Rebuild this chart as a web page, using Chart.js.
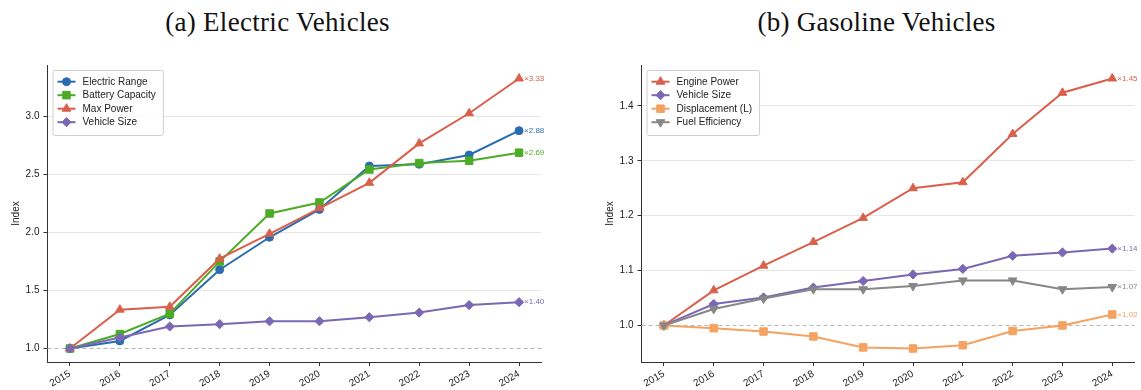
<!DOCTYPE html>
<html>
<head>
<meta charset="utf-8">
<script src="https://cdn.jsdelivr.net/npm/chart.js@4.4.1/dist/chart.umd.min.js"></script>
<style>
  html, body { margin: 0; padding: 0; background: #fff; width: 1141px; height: 390px; overflow: hidden; }
  .title { position: absolute; top: 9px; font-family: "Liberation Serif", "Times New Roman", serif; font-size: 27px; letter-spacing: 0.3px; line-height: 1; color: #111; white-space: nowrap; transform: translateX(-50%); }
  canvas { position: absolute; top: 0; }
</style>
</head>
<body>
<div class="title" style="left:277.5px">(a) Electric Vehicles</div>
<div class="title" style="left:876.5px">(b) Gasoline Vehicles</div>
<canvas id="ev" width="570" height="390" style="left:0"></canvas>
<canvas id="gas" width="547" height="390" style="left:594px"></canvas>
<script>
// Model years on the x axis
const years = [2015, 2016, 2017, 2018, 2019, 2020, 2021, 2022, 2023, 2024];

// Electric vehicles, indexed to 2015 = 1.0
const evElectricRange    = [1.00, 1.065, 1.29, 1.68, 1.96, 2.20, 2.575, 2.59, 2.67, 2.88];
const evBatteryCapacity  = [1.00, 1.125, 1.30, 1.75, 2.165, 2.26, 2.545, 2.60, 2.62, 2.69];
const evMaxPower         = [1.00, 1.335, 1.36, 1.775, 1.99, 2.21, 2.43, 2.77, 3.03, 3.33];
const evVehicleSize      = [1.00, 1.095, 1.19, 1.21, 1.235, 1.235, 1.27, 1.31, 1.375, 1.40];

// Gasoline vehicles, indexed to 2015 = 1.0
const gasEnginePower     = [1.00, 1.064, 1.109, 1.152, 1.196, 1.250, 1.261, 1.349, 1.424, 1.45];
const gasVehicleSize     = [1.00, 1.039, 1.051, 1.069, 1.081, 1.093, 1.103, 1.127, 1.133, 1.14];
const gasDisplacement    = [1.00, 0.995, 0.989, 0.980, 0.960, 0.958, 0.964, 0.990, 1.000, 1.02];
const gasFuelEfficiency  = [1.00, 1.030, 1.049, 1.066, 1.066, 1.072, 1.082, 1.082, 1.066, 1.07];

// Y tick values
const evTicks  = [1.0, 1.5, 2.0, 2.5, 3.0];
const gasTicks = [1.0, 1.1, 1.2, 1.3, 1.4];

const SANS = '"Liberation Sans", Arial, Helvetica, sans-serif';

const evSeries = [
  { label: 'Electric Range',   data: evElectricRange,   color: '#2b6cb0', style: 'circle',   radius: 4 },
  { label: 'Battery Capacity', data: evBatteryCapacity, color: '#4dac26', style: 'rect',     radius: 5.3 },
  { label: 'Max Power',        data: evMaxPower,        color: '#d9604c', style: 'triangle', radius: 5 },
  { label: 'Vehicle Size',     data: evVehicleSize,     color: '#7b68b5', style: 'rectRot',  radius: 4.6 }
];
const gasSeries = [
  { label: 'Engine Power',     data: gasEnginePower,    color: '#d9604c', style: 'triangle', radius: 5 },
  { label: 'Vehicle Size',     data: gasVehicleSize,    color: '#7b68b5', style: 'rectRot',  radius: 4.6 },
  { label: 'Displacement (L)', data: gasDisplacement,   color: '#f4a261', style: 'rect',     radius: 5.3 },
  { label: 'Fuel Efficiency',  data: gasFuelEfficiency, color: '#878787', style: 'triangle', radius: 5, rotation: 180 }
];

// Dashed baseline at index 1.0
const baseline = {
  id: 'baseline',
  beforeDatasetsDraw(chart) {
    const { ctx, chartArea, scales } = chart;
    const y = scales.y.getPixelForValue(1);
    ctx.save();
    ctx.strokeStyle = '#b5b5b5';
    ctx.lineWidth = 1;
    ctx.setLineDash([4, 3]);
    ctx.beginPath();
    ctx.moveTo(chartArea.left, y);
    ctx.lineTo(chartArea.right, y);
    ctx.stroke();
    ctx.restore();
  }
};

// "×value" annotation after the last point of each series
const endLabels = {
  id: 'endLabels',
  afterDatasetsDraw(chart) {
    const { ctx } = chart;
    ctx.save();
    ctx.font = '8px ' + SANS;
    ctx.textAlign = 'left';
    ctx.textBaseline = 'middle';
    chart.data.datasets.forEach((ds, i) => {
      const pts = chart.getDatasetMeta(i).data;
      const last = pts[pts.length - 1];
      const v = ds.data[ds.data.length - 1].y;
      ctx.fillStyle = ds.borderColor;
      ctx.fillText('\u00d7' + v.toFixed(2), last.x + 5, last.y);
    });
    ctx.restore();
  }
};

// Legend with a line-and-marker handle, in the upper-left corner of the plot
const lineLegend = {
  id: 'lineLegend',
  afterDraw(chart) {
    const { ctx, chartArea } = chart;
    const dss = chart.data.datasets;
    ctx.save();
    ctx.font = '10px ' + SANS;
    const textW = Math.max(...dss.map(d => ctx.measureText(d.label).width));
    const bx = chartArea.left + 5, by = chartArea.top + 5;
    const bw = 30 + textW + 7, bh = 65;
    ctx.fillStyle = 'rgba(255,255,255,0.85)';
    ctx.strokeStyle = '#cfcfcf';
    ctx.lineWidth = 1;
    ctx.beginPath();
    if (ctx.roundRect) ctx.roundRect(bx + 0.5, by + 0.5, bw, bh, 2); else ctx.rect(bx + 0.5, by + 0.5, bw, bh);
    ctx.fill();
    ctx.stroke();
    dss.forEach((d, i) => {
      const y = by + 11.7 + i * 13.5;
      ctx.strokeStyle = d.borderColor;
      ctx.lineWidth = 2;
      ctx.beginPath();
      ctx.moveTo(bx + 5, y);
      ctx.lineTo(bx + 23, y);
      ctx.stroke();
      ctx.fillStyle = d.borderColor;
      ctx.strokeStyle = d.borderColor;
      ctx.lineWidth = 1;
      Chart.helpers.drawPoint(ctx, { pointStyle: d.pointStyle, radius: d.pointRadius, rotation: d.pointRotation, borderWidth: 1 }, bx + 14, y);
      ctx.fillStyle = '#222';
      ctx.textAlign = 'left';
      ctx.textBaseline = 'middle';
      ctx.fillText(d.label, bx + 30, y + 0.5);
    });
    ctx.restore();
  }
};

function makeChart(id, series, yTicks, rightPad) {
  const all = series.flatMap(s => s.data);
  const lo = Math.min(...all), hi = Math.max(...all);
  const ym = (hi - lo) * 0.05;
  const xm = (years[years.length - 1] - years[0]) * 0.05;
  const n = series.length;
  return new Chart(document.getElementById(id), {
    type: 'line',
    data: {
      datasets: series.map((s, i) => ({
        label: s.label,
        data: years.map((yr, j) => ({ x: yr, y: s.data[j] })),
        borderColor: s.color,
        backgroundColor: s.color,
        pointBackgroundColor: s.color,
        pointBorderColor: s.color,
        pointBorderWidth: 1,
        borderWidth: 2,
        pointStyle: s.style,
        pointRadius: s.radius,
        pointRotation: s.rotation || 0,
        tension: 0,
        order: n - i
      }))
    },
    options: {
      responsive: false,
      animation: false,
      devicePixelRatio: 1,
      layout: { padding: { left: 0, right: rightPad, top: 65, bottom: 0 } },
      plugins: { legend: { display: false }, tooltip: { enabled: false } },
      scales: {
        x: {
          type: 'linear',
          min: years[0] - xm,
          max: years[years.length - 1] + xm,
          afterBuildTicks: s => { s.ticks = years.map(v => ({ value: v })); },
          afterFit: s => { s.height = 28; },
          ticks: {
            autoSkip: false, minRotation: 30, maxRotation: 30, padding: 2,
            color: '#222', font: { family: SANS, size: 10 },
            callback: v => String(v)
          },
          grid: { drawOnChartArea: false, drawTicks: true, tickLength: 4, tickColor: '#333' },
          border: { color: '#333', width: 1 }
        },
        y: {
          min: lo - ym,
          max: hi + ym,
          afterBuildTicks: s => { s.ticks = yTicks.map(v => ({ value: v })); },
          afterFit: s => { s.width = 47.5; },
          ticks: {
            padding: 4, color: '#222', font: { family: SANS, size: 10 },
            callback: v => Number(v).toFixed(1)
          },
          grid: {
            color: c => (c.tick && Math.abs(c.tick.value - 1) < 1e-9) ? 'rgba(0,0,0,0)' : '#e6e6e6',
            lineWidth: 1, drawTicks: true, tickLength: 4, tickColor: '#333'
          },
          border: { color: '#333', width: 1 },
          title: {
            display: true, text: 'Index', color: '#222',
            font: { family: SANS, size: 10 }, padding: { top: 10.7, bottom: 0 }
          }
        }
      }
    },
    plugins: [baseline, endLabels, lineLegend]
  });
}

makeChart('ev', evSeries, evTicks, 28.5);
makeChart('gas', gasSeries, gasTicks, 5.5);
</script>
</body>
</html>
